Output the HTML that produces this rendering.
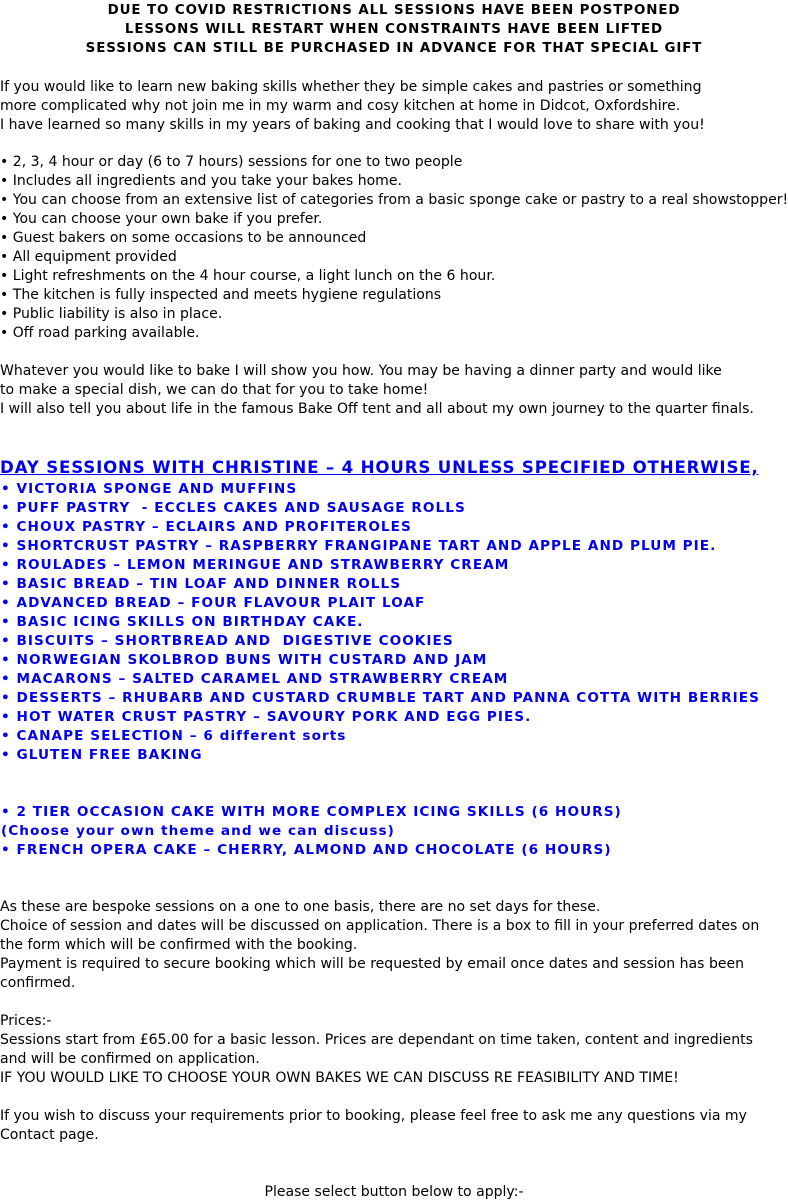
<!DOCTYPE html>
<html><head><meta charset="utf-8">
<style>
body{margin:0;width:788px;height:1202px;background:#fff;position:relative;overflow:hidden;font-family:"DejaVu Sans","Liberation Sans",sans-serif;color:#000}
.b{position:absolute;left:0;white-space:nowrap;font-size:14.05px;line-height:19px}
.c{width:788px;text-align:center}
.h{font-weight:bold;font-size:13.4px;letter-spacing:0.9px}
.blue{color:#0000ee;font-weight:bold;font-size:13.6px;letter-spacing:1.05px;left:1px}
.ttl{font-size:16.6px;letter-spacing:0.85px;text-decoration:underline;color:#0000ee;font-weight:bold;line-height:20px}
</style></head><body>
<div class="b c h" style="top:1px">DUE TO COVID RESTRICTIONS ALL SESSIONS HAVE BEEN POSTPONED<br>LESSONS WILL RESTART WHEN CONSTRAINTS HAVE BEEN LIFTED<br>SESSIONS CAN STILL BE PURCHASED IN ADVANCE FOR THAT SPECIAL GIFT</div>
<div class="b" style="top:78px">If you would like to learn new baking skills whether they be simple cakes and pastries or something<br>more complicated why not join me in my warm and cosy kitchen at home in Didcot, Oxfordshire.<br>I have learned so many skills in my years of baking and cooking that I would love to share with you!</div>
<div class="b" style="top:153px">• 2, 3, 4 hour or day (6 to 7 hours) sessions for one to two people<br>• Includes all ingredients and you take your bakes home.<br>• You can choose from an extensive list of categories from a basic sponge cake or pastry to a real showstopper!<br>• You can choose your own bake if you prefer.<br>• Guest bakers on some occasions to be announced<br>• All equipment provided<br>• Light refreshments on the 4 hour course, a light lunch on the 6 hour.<br>• The kitchen is fully inspected and meets hygiene regulations<br>• Public liability is also in place.<br>• Off road parking available.</div>
<div class="b" style="top:362px">Whatever you would like to bake I will show you how. You may be having a dinner party and would like<br>to make a special dish, we can do that for you to take home!<br>I will also tell you about life in the famous Bake Off tent and all about my own journey to the quarter finals.</div>
<div class="b ttl" style="top:458px">DAY SESSIONS WITH CHRISTINE – 4 HOURS UNLESS SPECIFIED OTHERWISE,</div>
<div class="b blue" style="top:480px">• VICTORIA SPONGE AND MUFFINS<br>• PUFF PASTRY &nbsp;- ECCLES CAKES AND SAUSAGE ROLLS<br>• CHOUX PASTRY – ECLAIRS AND PROFITEROLES<br>• SHORTCRUST PASTRY – RASPBERRY FRANGIPANE TART AND APPLE AND PLUM PIE.<br>• ROULADES – LEMON MERINGUE AND STRAWBERRY CREAM<br>• BASIC BREAD – TIN LOAF AND DINNER ROLLS<br>• ADVANCED BREAD – FOUR FLAVOUR PLAIT LOAF<br>• BASIC ICING SKILLS ON BIRTHDAY CAKE.<br>• BISCUITS – SHORTBREAD AND &nbsp;DIGESTIVE COOKIES<br>• NORWEGIAN SKOLBROD BUNS WITH CUSTARD AND JAM<br>• MACARONS – SALTED CARAMEL AND STRAWBERRY CREAM<br>• DESSERTS – RHUBARB AND CUSTARD CRUMBLE TART AND PANNA COTTA WITH BERRIES<br>• HOT WATER CRUST PASTRY – SAVOURY PORK AND EGG PIES.<br>• CANAPE SELECTION – 6 different sorts<br>• GLUTEN FREE BAKING</div>
<div class="b blue" style="top:803px">• 2 TIER OCCASION CAKE WITH MORE COMPLEX ICING SKILLS (6 HOURS)<br>(Choose your own theme and we can discuss)<br>• FRENCH OPERA CAKE – CHERRY, ALMOND AND CHOCOLATE (6 HOURS)</div>
<div class="b" style="top:898px">As these are bespoke sessions on a one to one basis, there are no set days for these.<br>Choice of session and dates will be discussed on application. There is a box to fill in your preferred dates on<br>the form which will be confirmed with the booking.<br>Payment is required to secure booking which will be requested by email once dates and session has been<br>confirmed.</div>
<div class="b" style="top:1012px">Prices:-<br>Sessions start from £65.00 for a basic lesson. Prices are dependant on time taken, content and ingredients<br>and will be confirmed on application.<br>IF YOU WOULD LIKE TO CHOOSE YOUR OWN BAKES WE CAN DISCUSS RE FEASIBILITY AND TIME!</div>
<div class="b" style="top:1107px">If you wish to discuss your requirements prior to booking, please feel free to ask me any questions via my<br>Contact page.</div>
<div class="b c" style="top:1183px">Please select button below to apply:-</div>
</body></html>
